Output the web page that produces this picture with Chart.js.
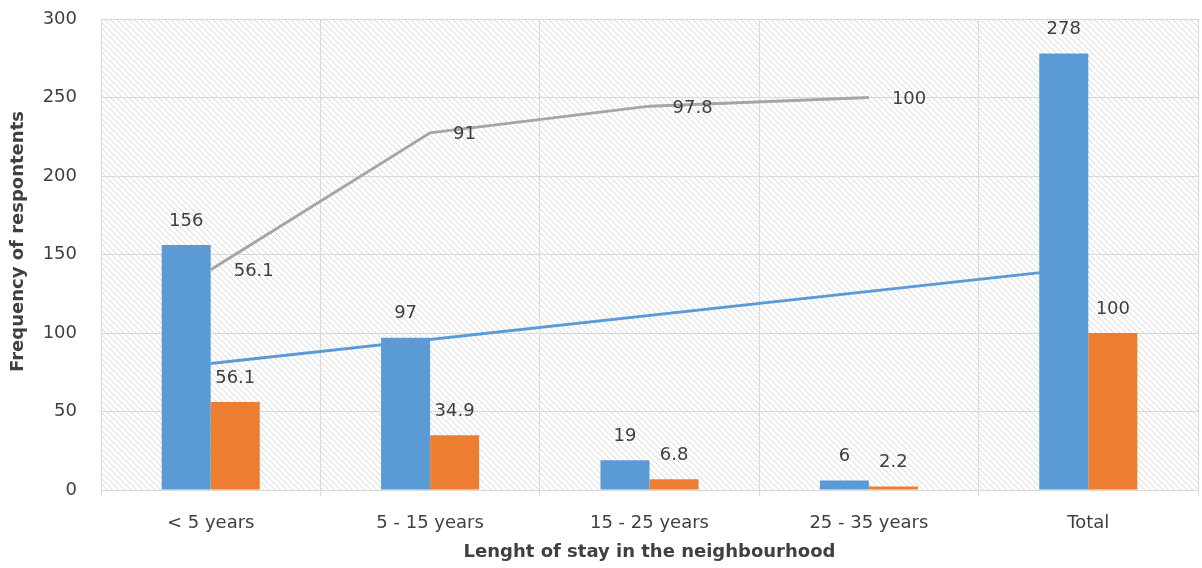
<!DOCTYPE html>
<html>
<head>
<meta charset="utf-8">
<script src="https://cdn.jsdelivr.net/npm/chart.js@4/dist/chart.umd.min.js"></script>
<style>
  html, body { margin: 0; padding: 0; background: #ffffff; }
  #wrap { width: 1202px; height: 568px; position: relative; }
</style>
</head>
<body>
<div id="wrap"><canvas id="chart" width="1202" height="568"></canvas></div>
<script>
// Length of stay categories
const categories = ['< 5 years', '5 - 15 years', '15 - 25 years', '25 - 35 years', 'Total'];
// Number of respondents per category
const frequency = [156, 97, 19, 6, 278];
// Share of respondents (%)
const percent = [56.1, 34.9, 6.8, 2.2, 100];
// Cumulative share (%)
const cumulative = [56.1, 91, 97.8, 100, null];
// Linear trend of the frequency (end points)
const trend = [80.6, null, null, null, 141.8];
// Left axis ticks
const yTicks = [0, 50, 100, 150, 200, 250, 300];
const yTitle = 'Frequency of respontents';
const xTitle = 'Lenght of stay in the neighbourhood';

const TEXT = '#404040';
const FONT = 'DejaVu Sans';

// Diagonal hatching behind the plot area
const hatchPlugin = {
  id: 'hatch',
  beforeDraw(chart) {
    const { ctx, chartArea: a } = chart;
    ctx.save();
    ctx.beginPath();
    ctx.rect(a.left, a.top, a.right - a.left, a.bottom - a.top);
    ctx.clip();
    ctx.strokeStyle = '#d8d8d8';
    ctx.lineWidth = 1;
    const h = a.bottom - a.top;
    ctx.beginPath();
    for (let k = -h; k < a.right - a.left; k += 6) {
      ctx.moveTo(a.left + k, a.top);
      ctx.lineTo(a.left + k + h, a.bottom);
    }
    ctx.stroke();
    ctx.restore();
  }
};

// Vertical axis title, placed a little above the plot's middle
const yTitlePlugin = {
  id: 'yTitle',
  afterDraw(chart) {
    const { ctx, chartArea: a } = chart;
    ctx.save();
    ctx.translate(18, (a.top + a.bottom) / 2 - 13);
    ctx.rotate(-Math.PI / 2);
    ctx.font = 'bold 18px "' + FONT + '"';
    ctx.fillStyle = TEXT;
    ctx.textAlign = 'center';
    ctx.textBaseline = 'middle';
    ctx.fillText(yTitle, 0, 0);
    ctx.restore();
  }
};

// Value labels on bars and on the cumulative line
const labelPlugin = {
  id: 'valueLabels',
  afterDatasetsDraw(chart) {
    const { ctx } = chart;
    ctx.save();
    ctx.font = '18px "' + FONT + '"';
    ctx.fillStyle = TEXT;
    ctx.textBaseline = 'middle';
    chart.data.datasets.forEach((ds, i) => {
      if (!ds.showValues) return;
      const meta = chart.getDatasetMeta(i);
      meta.data.forEach((el, j) => {
        const v = ds.data[j];
        if (v === null || v === undefined) return;
        if (ds.type === 'bar') {
          ctx.textAlign = 'center';
          ctx.fillText(String(v), el.x, el.y - 24);
        } else {
          ctx.textAlign = 'left';
          ctx.fillText(String(v), el.x + 23, el.y + 2);
        }
      });
    });
    ctx.restore();
  }
};

new Chart(document.getElementById('chart'), {
  data: {
    labels: categories,
    datasets: [
      {
        type: 'line', label: 'Cumulative %', data: cumulative, yAxisID: 'y2',
        borderColor: '#a5a5a5', borderWidth: 3, pointRadius: 0, fill: false,
        tension: 0, order: 0, showValues: true
      },
      {
        type: 'bar', label: 'Frequency', data: frequency, yAxisID: 'y',
        backgroundColor: '#5b9bd5', categoryPercentage: 0.447, barPercentage: 1,
        order: 1, showValues: true
      },
      {
        type: 'bar', label: 'Percent', data: percent, yAxisID: 'y',
        backgroundColor: '#ed7d31', categoryPercentage: 0.447, barPercentage: 1,
        order: 1, showValues: true
      },
      {
        type: 'line', label: 'Linear (Frequency)', data: trend, yAxisID: 'y',
        borderColor: '#5b9bd5', borderWidth: 3, pointRadius: 0, fill: false,
        spanGaps: true, order: 2, showValues: false
      }
    ]
  },
  options: {
    responsive: false,
    animation: false,
    layout: { padding: { top: 19, right: 4, left: 0, bottom: 0 } },
    plugins: { legend: { display: false }, tooltip: { enabled: false } },
    scales: {
      x: {
        grid: { color: '#d9d9d9', offset: true, drawTicks: true, tickLength: 6, tickColor: '#d9d9d9' },
        border: { color: '#d9d9d9' },
        ticks: { color: TEXT, font: { family: FONT, size: 18 }, padding: 17, maxRotation: 0 },
        title: {
          display: true, text: xTitle, color: TEXT,
          font: { family: FONT, size: 18, weight: 'bold' }, padding: { top: 0, bottom: 5 }
        },
        afterFit(scale) { scale.height = 78; }
      },
      y: {
        min: 0, max: 300,
        afterBuildTicks(scale) { scale.ticks = yTicks.map(v => ({ value: v })); },
        grid: { color: '#d9d9d9', drawTicks: false },
        border: { color: '#d9d9d9' },
        ticks: { color: TEXT, font: { family: FONT, size: 18 }, padding: 24 },
        title: { display: false },
        afterFit(scale) {
          scale.width = 101;
          scale.paddingTop = 0;
          scale.paddingBottom = 0;
        }
      },
      y2: {
        display: false, min: 0, max: 120,
        afterFit(scale) { scale.paddingTop = 0; scale.paddingBottom = 0; }
      }
    }
  },
  plugins: [hatchPlugin, labelPlugin, yTitlePlugin]
});
</script>
</body>
</html>
